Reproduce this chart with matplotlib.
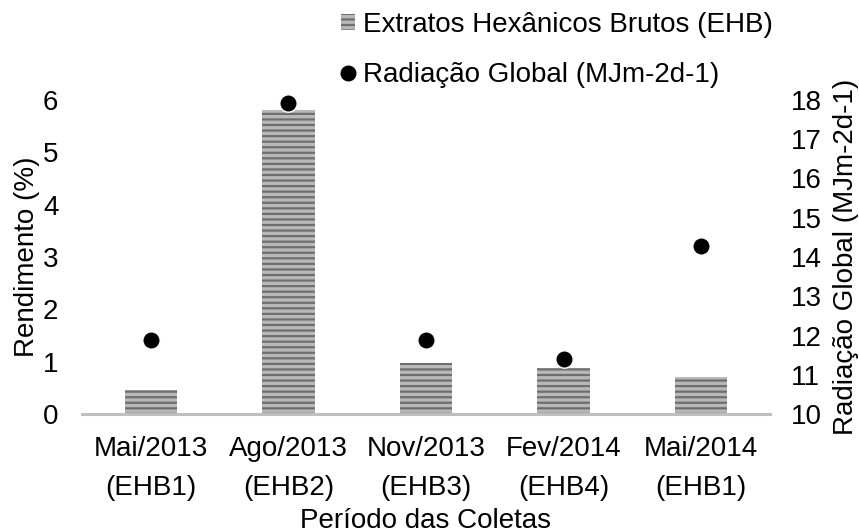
import matplotlib
matplotlib.use("Agg")
import matplotlib.pyplot as plt
from matplotlib.lines import Line2D
from matplotlib.patches import Patch

plt.rcParams['font.family'] = ['Liberation Sans', 'DejaVu Sans']
plt.rcParams['hatch.linewidth'] = 1.6

categories = ["Mai/2013\n(EHB1)", "Ago/2013\n(EHB2)", "Nov/2013\n(EHB3)", "Fev/2014\n(EHB4)", "Mai/2014\n(EHB1)"]
rendimento = [0.46, 5.81, 0.97, 0.87, 0.71]
radiacao = [11.88, 17.92, 11.88, 11.39, 14.28]
left_ticks = [0, 1, 2, 3, 4, 5, 6]
right_ticks = [10, 11, 12, 13, 14, 15, 16, 17, 18]

fig = plt.figure(figsize=(8.59, 5.32), dpi=100)
ax = fig.add_axes([82/859, 1-414/532, 688/859, 314/532])
ax2 = ax.twinx()

x = list(range(len(categories)))
ax.bar(x, rendimento, width=0.38, color='#b8b8b8', edgecolor='#6e6e6e',
       linewidth=0, hatch='---', zorder=2)
ax2.plot(x, radiacao, 'o', color='black', ms=12.5, markeredgecolor='white',
         markeredgewidth=1.0, clip_on=False, zorder=3)

ax.set_xlim(-0.5, 4.5)
ax.set_ylim(0, 6)
ax2.set_ylim(10, 18)
ax.set_yticks(left_ticks)
ax2.set_yticks(right_ticks)
ax.set_xticks(x)
ax.set_xticklabels(categories, linespacing=1.62)

fs = 20
for a in (ax, ax2):
    for s in a.spines.values():
        s.set_visible(False)
    a.tick_params(length=0, labelsize=fs, colors='#000000')
ax.spines['bottom'].set_visible(True)
ax.spines['bottom'].set_color('#bfbfbf')
ax.spines['bottom'].set_linewidth(2.2)
ax.tick_params(axis='x', pad=16)
ax.tick_params(axis='y', pad=17)
ax2.tick_params(axis='y', pad=15)

ax.set_xlabel("Período das Coletas", fontsize=fs, labelpad=5)
ax.set_ylabel("Rendimento (%)", fontsize=fs, labelpad=2)
ax2.set_ylabel("Radiação Global (MJm-2d-1)", fontsize=fs, labelpad=8)

handles = [Patch(facecolor='#b8b8b8', edgecolor='#6e6e6e', hatch='---', linewidth=0),
           Line2D([], [], marker='o', color='black', ls='none', ms=10.5)]
labels = ["Extratos Hexânicos Brutos (EHB)", "Radiação Global (MJm-2d-1)"]
fig.legend(handles, labels, loc='upper left', bbox_to_anchor=(338/859, 1 - 9/532),
           frameon=False, fontsize=fs, handlelength=0.5, handleheight=0.5,
           handletextpad=0.3, labelspacing=0.86, borderaxespad=0, borderpad=0.1)

fig.savefig("out.png", dpi=100)
